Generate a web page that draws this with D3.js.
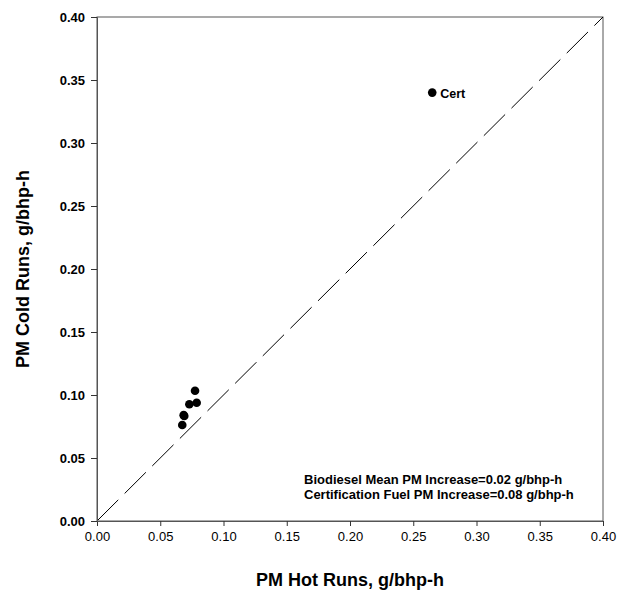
<!DOCTYPE html>
<html><head><meta charset="utf-8">
<script src="https://cdn.jsdelivr.net/npm/d3@7"></script>
<style>body{margin:0;background:#fff}svg{display:block}</style>
</head><body>
<svg id="c" width="633" height="593"></svg>
<script>
const hotRuns = [0.0775, 0.073, 0.0788, 0.069, 0.0674, 0.0685];
const coldRuns = [0.1034, 0.0926, 0.0939, 0.0833, 0.0762, 0.0840];
const certHot = [0.265];
const certCold = [0.340];
const certLabel = "Cert";
const tickValues = [0, 0.05, 0.10, 0.15, 0.20, 0.25, 0.30, 0.35, 0.40];
const noteLines = ["Biodiesel Mean PM Increase=0.02 g/bhp-h", "Certification Fuel PM Increase=0.08 g/bhp-h"];
const xTitle = "PM Hot Runs, g/bhp-h";
const yTitle = "PM Cold Runs, g/bhp-h";

const svg = d3.select("#c");
const L = 97, R = 603, T = 17, B = 521;
const x = d3.scaleLinear().domain([0, 0.4]).range([L, R]);
const y = d3.scaleLinear().domain([0, 0.4]).range([B, T]);
const font = "Arial, 'Liberation Sans', sans-serif";

// frame
svg.append("rect").attr("x", L).attr("y", T).attr("width", R - L).attr("height", B - T)
  .attr("fill", "none").attr("stroke", "#555").attr("stroke-width", 1);

// 1:1 line
svg.append("line").attr("x1", x(0)).attr("y1", y(0)).attr("x2", x(0.4)).attr("y2", y(0.4))
  .attr("stroke", "#000").attr("stroke-width", 1).attr("stroke-dasharray", "30,9");

const xAxis = svg.append("g").attr("transform", `translate(0,${B})`)
  .call(d3.axisBottom(x).tickValues(tickValues).tickFormat(d3.format(".2f")).tickSize(5).tickPadding(6));
const yAxis = svg.append("g").attr("transform", `translate(${L},0)`)
  .call(d3.axisLeft(y).tickValues(tickValues).tickFormat(d3.format(".2f")).tickSize(6).tickPadding(6));
[xAxis, yAxis].forEach(a => {
  a.select(".domain").attr("stroke", "#555");
  a.selectAll(".tick line").attr("stroke", "#333");
  a.selectAll("text").attr("fill", "#000").style("font-family", font).style("font-size", "13px");
});
yAxis.selectAll("text").style("font-weight", "bold");

// points
const pts = hotRuns.map((h, i) => ({h, c: coldRuns[i]}));
svg.append("g").selectAll("circle").data(pts).join("circle")
  .attr("cx", d => x(d.h)).attr("cy", d => y(d.c)).attr("r", 4.3).attr("fill", "#000");
svg.append("g").selectAll("circle").data(certHot).join("circle")
  .attr("cx", d => x(d)).attr("cy", (d, i) => y(certCold[i])).attr("r", 4.3).attr("fill", "#000");
svg.append("text").attr("x", x(certHot[0]) + 8).attr("y", y(certCold[0]) + 5)
  .text(certLabel).style("font-family", font).style("font-size", "12.5px").style("font-weight", "bold");

// note
svg.append("g").selectAll("text").data(noteLines).join("text")
  .attr("x", 304).attr("y", (d, i) => 484 + i * 14.5)
  .text(d => d).style("font-family", font).style("font-size", "13px").style("font-weight", "bold");

// titles
svg.append("text").attr("x", (L + R) / 2).attr("y", 586).attr("text-anchor", "middle")
  .text(xTitle).style("font-family", font).style("font-size", "18px").style("font-weight", "bold");
svg.append("text").attr("transform", `translate(29,${(T + B) / 2}) rotate(-90)`).attr("text-anchor", "middle")
  .text(yTitle).style("font-family", font).style("font-size", "18px").style("font-weight", "bold");
</script>
</body></html>
